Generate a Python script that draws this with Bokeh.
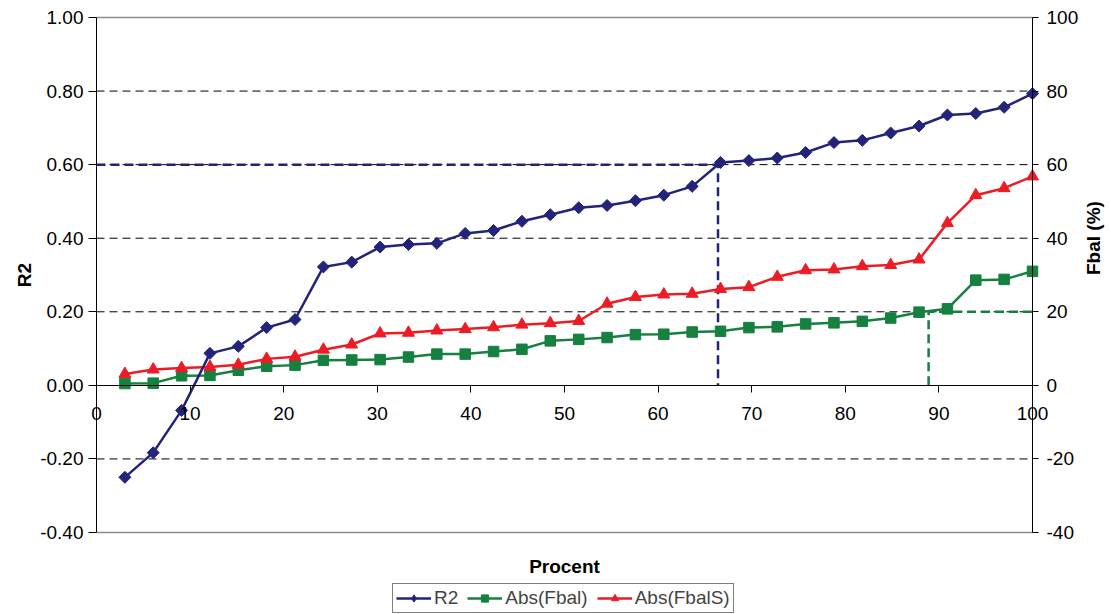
import math
from bokeh.plotting import figure
from bokeh.models import (Range1d, LinearAxis, FixedTicker, NumeralTickFormatter,
                          Legend, LegendItem, Label, ColumnDataSource)
from bokeh.embed import file_html
from bokeh.resources import INLINE

# ---------------- data ----------------
procent = [3.03, 6.06, 9.09, 12.12, 15.15, 18.18, 21.21, 24.24, 27.27, 30.30,
           33.33, 36.36, 39.39, 42.42, 45.45, 48.48, 51.52, 54.55, 57.58, 60.61,
           63.64, 66.67, 69.70, 72.73, 75.76, 78.79, 81.82, 84.85, 87.88, 90.91,
           93.94, 96.97, 100.0]
r2 = [-0.250, -0.183, -0.068, 0.087, 0.106, 0.157, 0.179, 0.322, 0.335, 0.376,
      0.383, 0.386, 0.413, 0.421, 0.446, 0.464, 0.483, 0.489, 0.502, 0.517,
      0.541, 0.606, 0.611, 0.618, 0.633, 0.660, 0.666, 0.686, 0.705, 0.735,
      0.739, 0.756, 0.793]
abs_fbal = [0.5, 0.6, 2.6, 2.7, 4.1, 5.2, 5.5, 6.8, 6.9, 7.0,
            7.7, 8.5, 8.5, 9.2, 9.8, 12.1, 12.5, 13.0, 13.8, 13.9,
            14.5, 14.7, 15.7, 15.9, 16.7, 17.0, 17.4, 18.3, 19.9, 20.8,
            28.6, 28.8, 31.0]
abs_fbals = [3.1, 4.3, 4.7, 5.0, 5.6, 7.2, 7.8, 9.7, 11.1, 14.1,
             14.3, 14.9, 15.3, 15.8, 16.5, 16.9, 17.5, 22.2, 24.0, 24.7,
             24.9, 26.2, 26.7, 29.5, 31.3, 31.5, 32.4, 32.7, 34.2, 44.1,
             51.7, 53.6, 56.8]

series_labels = ["R2", "Abs(Fbal)", "Abs(FbalS)"]
x_title = "Procent"
left_title = "R2"
right_title = "Fbal (%)"

x_ticks = [0, 10, 20, 30, 40, 50, 60, 70, 80, 90, 100]
r2_ticks = [-0.4, -0.2, 0.0, 0.2, 0.4, 0.6, 0.8, 1.0]
fbal_ticks = [-40, -20, 0, 20, 40, 60, 80, 100]
r2_grid = [-0.2, 0.2, 0.4, 0.6, 0.8]
r2_border = [-0.4, 1.0]

x_min, x_max = 0, 100
r2_min, r2_max = -0.4, 1.0
fbal_min, fbal_max = -40, 100

r2_threshold, r2_threshold_pct = 0.6, 66.4
fbal_threshold, fbal_threshold_pct = 20, 88.9

# ---------------- layout (pixels) ----------------
W, H = 1111, 614
PLOT_LEFT, PLOT_RIGHT = 96, 1032      # x = 0 and x = 100
PLOT_TOP, PLOT_BOTTOM = 17, 532       # R2 = 1.0 and R2 = -0.4
PROCENT_Y = 566
LEGEND_X, LEGEND_BOTTOM = 392, 613

px_x = (PLOT_RIGHT - PLOT_LEFT) / (x_max - x_min)
px_y = (PLOT_BOTTOM - PLOT_TOP) / (r2_max - r2_min)
x_lo = x_min - PLOT_LEFT / px_x
x_hi = x_max + (W - PLOT_RIGHT) / px_x
y_hi = r2_max + PLOT_TOP / px_y
y_lo = r2_min - (H - PLOT_BOTTOM) / px_y
fbal_scale = (fbal_max - fbal_min) / (r2_max - r2_min)

# ---------------- style ----------------
FONT = "Liberation Sans"
FS = "19px"
NAVY = "#23237A"
GREEN = "#15803F"
RED = "#ED1C24"
GRID = "black"
BORDER = "#8C8C8C"

p = figure(frame_width=W, frame_height=H,
           x_range=Range1d(x_lo, x_hi), y_range=Range1d(y_lo, y_hi),
           output_backend="svg", toolbar_location=None,
           min_border_left=0, min_border_right=0, min_border_top=0, min_border_bottom=0,
           background_fill_color="white", border_fill_color="white",
           outline_line_color=None)
p.extra_y_ranges = {"fbal": Range1d(y_lo * fbal_scale, y_hi * fbal_scale)}
p.xgrid.visible = False
p.ygrid.visible = False

# grid lines and plot-area border
n = len(r2_grid)
p.segment(x0=[x_min] * n, y0=r2_grid, x1=[x_max] * n, y1=r2_grid,
          line_color=GRID, line_width=1, line_dash="8 5")
p.segment(x0=[x_min] * 2, y0=r2_border, x1=[x_max] * 2, y1=r2_border,
          line_color=BORDER, line_width=1.5)

# threshold reference lines
p.line([x_min, r2_threshold_pct, r2_threshold_pct], [r2_threshold, r2_threshold, 0],
       line_color=NAVY, line_width=2.5, line_dash="9 5")
p.line([fbal_threshold_pct, fbal_threshold_pct, x_max], [0, fbal_threshold, fbal_threshold],
       y_range_name="fbal", line_color=GREEN, line_width=2.5, line_dash="9 5")

src = ColumnDataSource(dict(procent=procent, r2=r2, fbal=abs_fbal, fbals=abs_fbals))

g_line = p.line("procent", "fbal", source=src, y_range_name="fbal",
                line_color=GREEN, line_width=2.5)
g_mark = p.scatter("procent", "fbal", source=src, y_range_name="fbal",
                   marker="square", size=10.5, fill_color=GREEN, line_color=GREEN)
r_line = p.line("procent", "fbals", source=src, y_range_name="fbal",
                line_color=RED, line_width=2.5)
r_mark = p.scatter("procent", "fbals", source=src, y_range_name="fbal",
                   marker="triangle", size=12, fill_color=RED, line_color=RED)
n_line = p.line("procent", "r2", source=src, line_color=NAVY, line_width=2.5)
n_mark = p.scatter("procent", "r2", source=src, marker="square", angle=math.pi / 4,
                   size=8.5, fill_color=NAVY, line_color=NAVY)
# legend key for R2: diamond marker, hidden on the plot itself
n_key = p.scatter("procent", "r2", source=src, marker="diamond", size=14,
                  fill_color=NAVY, line_color=NAVY, visible=False)


def style_axis(ax):
    ax.axis_line_color = "black"
    ax.axis_line_width = 1
    ax.major_tick_line_color = "black"
    ax.major_tick_in = 0
    ax.minor_tick_in = 0
    ax.minor_tick_out = 0
    ax.major_label_text_font = FONT
    ax.major_label_text_font_size = FS
    ax.major_label_text_color = "black"
    ax.axis_label_text_font = FONT
    ax.axis_label_text_font_size = FS
    ax.axis_label_text_font_style = "bold"
    ax.axis_label_text_color = "black"


# x axis crossing at R2 = 0
xa = p.xaxis[0]
style_axis(xa)
xa.fixed_location = 0
xa.bounds = (x_min, x_max)
xa.ticker = FixedTicker(ticks=x_ticks)
xa.major_tick_out = 7
xa.major_label_standoff = 15

# left axis at x = 0
ya = p.yaxis[0]
style_axis(ya)
ya.fixed_location = x_min
ya.bounds = (r2_min, r2_max)
ya.ticker = FixedTicker(ticks=r2_ticks)
ya.formatter = NumeralTickFormatter(format="0.00")
ya.major_tick_out = 8
ya.major_label_standoff = 5
ya.axis_label = left_title
ya.axis_label_standoff = 2

# right axis at x = 100
ra = LinearAxis(y_range_name="fbal", fixed_location=x_max,
                bounds=(fbal_min, fbal_max),
                ticker=FixedTicker(ticks=fbal_ticks),
                formatter=NumeralTickFormatter(format="0"))
style_axis(ra)
ra.major_tick_out = 6
ra.major_label_standoff = 8
ra.axis_label = right_title
ra.axis_label_standoff = 12
try:
    ra.axis_label_orientation = math.pi / 2
except Exception:
    pass
p.add_layout(ra, "right")

# x axis title
p.add_layout(Label(x=(x_min + x_max) / 2, y=r2_max - (PROCENT_Y - PLOT_TOP) / px_y,
                   text=x_title, text_align="center", text_baseline="middle",
                   text_font=FONT, text_font_size=FS, text_font_style="bold",
                   text_color="black"))

legend = Legend(items=[LegendItem(label=series_labels[0], renderers=[n_line, n_key]),
                       LegendItem(label=series_labels[1], renderers=[g_line, g_mark]),
                       LegendItem(label=series_labels[2], renderers=[r_line, r_mark])],
                orientation="horizontal", location=(LEGEND_X, H - LEGEND_BOTTOM),
                border_line_color="black", border_line_width=1,
                background_fill_color="white", background_fill_alpha=1,
                label_text_font=FONT, label_text_font_size=FS,
                glyph_width=35, glyph_height=18, label_standoff=3,
                spacing=9, padding=3, margin=0)
p.add_layout(legend, "center")

open("out.html", "w").write(file_html(p, INLINE))
